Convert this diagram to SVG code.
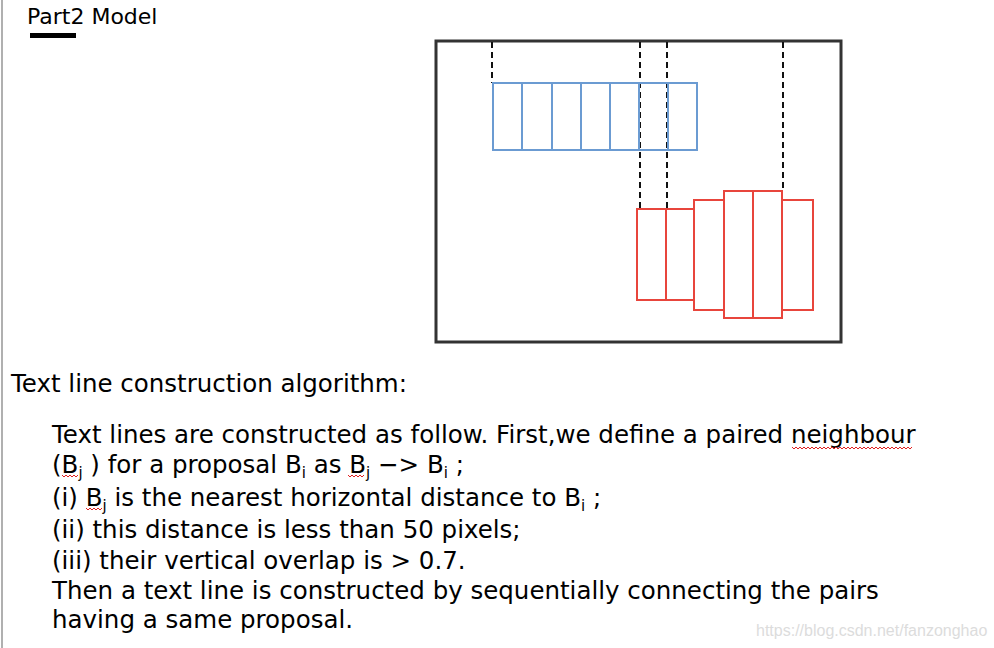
<svg xmlns="http://www.w3.org/2000/svg" width="994" height="648" viewBox="0 0 994 648">
<style>
.t{font-family:"DejaVu Sans",sans-serif;font-size:24.5px;fill:#000}
.s{font-size:15px}
.blue{fill:none;stroke:#6b9bd2;stroke-width:2}
.red{fill:none;stroke:#e8453c;stroke-width:2}
.dash{stroke:#111;stroke-width:2;stroke-dasharray:6 4;fill:none}
.wave{fill:none;stroke:#e02020;stroke-width:1}
</style>
<rect width="994" height="648" fill="#fff"/>
<line x1="2" y1="0" x2="2" y2="648" stroke="#b0b0b0" stroke-width="2"/>
<g id="header">
<text class="t" x="27" y="24" style="font-size:22px">Part2 Model</text>
<rect x="30" y="33" width="46" height="5" fill="#000"/>
</g>
<g id="figure">
<rect x="436" y="41" width="405" height="301" fill="none" stroke="#333" stroke-width="3"/>
<g id="connectors">
<line class="dash" x1="492" y1="42" x2="492" y2="83"/>
<line class="dash" x1="640" y1="42" x2="640" y2="209"/>
<line class="dash" x1="667" y1="42" x2="667" y2="209"/>
<line class="dash" x1="783" y1="42" x2="783" y2="191"/>
</g>
<g id="blue-boxes">
<rect class="blue" x="493" y="83" width="29" height="67"/>
<rect class="blue" x="522" y="83" width="30" height="67"/>
<rect class="blue" x="552" y="83" width="29" height="67"/>
<rect class="blue" x="581" y="83" width="29" height="67"/>
<rect class="blue" x="610" y="83" width="29" height="67"/>
<rect class="blue" x="639" y="83" width="29" height="67"/>
<rect class="blue" x="668" y="83" width="29" height="67"/>
</g>
<g id="red-boxes">
<rect class="red" x="637" y="209" width="29" height="91"/>
<rect class="red" x="666" y="209" width="28" height="91"/>
<rect class="red" x="694" y="200" width="30" height="110"/>
<rect class="red" x="724" y="191" width="29" height="127"/>
<rect class="red" x="753" y="191" width="29" height="127"/>
<rect class="red" x="782" y="200" width="31" height="110"/>
</g>
</g>
<g id="text">
<text class="t" x="11" y="392">Text line construction algorithm:</text>
<text class="t" x="52" y="443">Text lines are constructed as follow. First,we define a paired neighbour</text>
<text class="t" x="52" y="473">(B<tspan class="s" dy="5">j</tspan><tspan dy="-5"> ) for a proposal B</tspan><tspan class="s" dy="5">i</tspan><tspan dy="-5"> as B</tspan><tspan class="s" dy="5">j</tspan><tspan dy="-5"> −&gt; B</tspan><tspan class="s" dy="5">i</tspan><tspan dy="-5"> ;</tspan></text>
<text class="t" x="52" y="506">(i) B<tspan class="s" dy="5">j</tspan><tspan dy="-5"> is the nearest horizontal distance to B</tspan><tspan class="s" dy="5">i</tspan><tspan dy="-5"> ;</tspan></text>
<text class="t" x="52" y="538">(ii) this distance is less than 50 pixels;</text>
<text class="t" x="52" y="569">(iii) their vertical overlap is &gt; 0.7.</text>
<text class="t" x="52" y="599">Then a text line is constructed by sequentially connecting the pairs</text>
<text class="t" x="52" y="628">having a same proposal.</text>
</g>
<g id="spellcheck">
<path class="wave" d="M62 475 l2 2 l2 -2 l2 2 l2 -2 l2 2 l2 -2 l2 2 l2 -2"/>
<path class="wave" d="M348 475 l2 2 l2 -2 l2 2 l2 -2 l2 2 l2 -2 l2 2 l2 -2"/>
<path class="wave" d="M86 508 l2 2 l2 -2 l2 2 l2 -2 l2 2 l2 -2 l2 2 l2 -2"/>
<path class="wave" d="M792 447 l2 2 l2 -2 l2 2 l2 -2 l2 2 l2 -2 l2 2 l2 -2 l2 2 l2 -2 l2 2 l2 -2 l2 2 l2 -2 l2 2 l2 -2 l2 2 l2 -2 l2 2 l2 -2 l2 2 l2 -2 l2 2 l2 -2 l2 2 l2 -2 l2 2 l2 -2 l2 2 l2 -2 l2 2 l2 -2 l2 2 l2 -2 l2 2 l2 -2 l2 2 l2 -2 l2 2 l2 -2 l2 2 l2 -2 l2 2 l2 -2 l2 2 l2 -2 l2 2 l2 -2 l2 2 l2 -2 l2 2 l2 -2 l2 2 l2 -2 l2 2 l2 -2 l2 2 l2 -2 l2 2 l2 -2"/>
</g>
<text x="756" y="636" style="font-family:'Liberation Sans',Arial,sans-serif;font-size:16px;fill:#dcdcdc">https://blog.csdn.net/fanzonghao</text>
</svg>
